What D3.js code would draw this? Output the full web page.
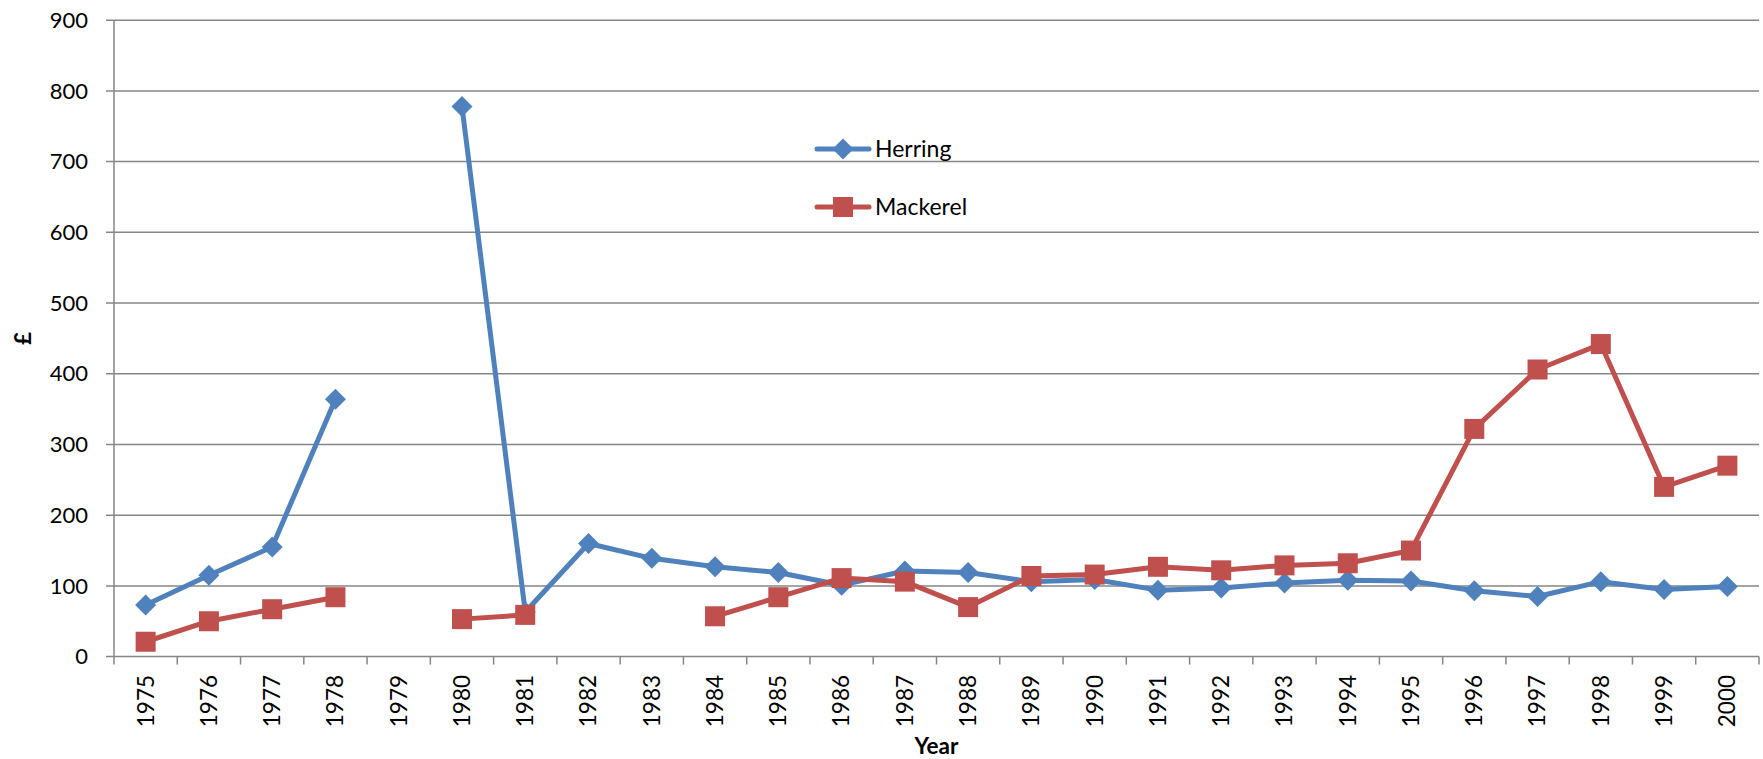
<!DOCTYPE html>
<html>
<head>
<meta charset="utf-8">
<script src="https://cdn.jsdelivr.net/npm/d3@7"></script>
<style>
  html, body { margin: 0; padding: 0; background: #fff; }
  svg { display: block; }
  text { font-family: Lato, "Open Sans", sans-serif; fill: #000; }
</style>
</head>
<body>
<svg id="chart" width="1763" height="759"></svg>
<script>
const years = ["1975","1976","1977","1978","1979","1980","1981","1982","1983","1984","1985","1986","1987","1988","1989","1990","1991","1992","1993","1994","1995","1996","1997","1998","1999","2000"];
const herring = [73, 115, 155, 364, null, 778, 63, 160, 139, 127, 119, 101, 121, 119, 106, 109, 94, 97, 104, 108, 107, 93, 85, 106, 95, 99];
const mackerel = [21, 50, 67, 84, null, 53, 59, null, null, 57, 84, 111, 106, 70, 114, 116, 127, 122, 129, 132, 150, 322, 406, 442, 240, 270];
const yTicks = [0, 100, 200, 300, 400, 500, 600, 700, 800, 900];
const seriesNames = ["Herring", "Mackerel"];
const seriesColors = ["#4F81BD", "#C0504D"];

const svg = d3.select("#chart");
const W = 1763, H = 759;
const m = { left: 114, right: 4, top: 20.2, bottom: 102.4 };
const x = d3.scaleBand().domain(years).range([m.left, W - m.right]);
const y = d3.scaleLinear().domain([0, 900]).range([H - m.bottom, m.top]);
const gridColor = "#868686";

// gridlines
svg.append("g").selectAll("line").data(yTicks).join("line")
  .attr("x1", m.left - 8).attr("x2", W - m.right)
  .attr("y1", d => y(d)).attr("y2", d => y(d))
  .attr("stroke", gridColor).attr("stroke-width", 1.5);

// y axis line
svg.append("line")
  .attr("x1", m.left).attr("x2", m.left)
  .attr("y1", m.top).attr("y2", y(0) + 8)
  .attr("stroke", gridColor).attr("stroke-width", 1.5);

// x ticks at band boundaries
const bounds = years.map(d => x(d)).concat([x(years[years.length - 1]) + x.bandwidth()]);
svg.append("g").selectAll("line").data(bounds.slice(1)).join("line")
  .attr("x1", d => d).attr("x2", d => d)
  .attr("y1", y(0)).attr("y2", y(0) + 8)
  .attr("stroke", gridColor).attr("stroke-width", 1.5);

// y labels
svg.append("g").selectAll("text").data(yTicks).join("text")
  .attr("x", 88).attr("y", d => y(d)).attr("dy", "0.35em")
  .attr("text-anchor", "end").attr("font-size", 22)
  .text(d => d);

// x labels
svg.append("g").selectAll("text").data(years).join("text")
  .attr("transform", d => `translate(${x(d) + x.bandwidth() / 2},675) rotate(-90)`)
  .attr("dy", "0.35em").attr("text-anchor", "end").attr("font-size", 22.5)
  .text(d => d);

// axis titles
svg.append("text").attr("x", (m.left + W - m.right) / 2).attr("y", 754)
  .attr("text-anchor", "middle").attr("font-size", 22.5).attr("font-weight", "bold").text("Year");
svg.append("text").attr("transform", `translate(31,${(y(0) + y(900)) / 2}) rotate(-90)`)
  .attr("text-anchor", "middle").attr("font-size", 22.5).attr("font-weight", "bold").text("£");

const cx = (d, i) => x(years[i]) + x.bandwidth() / 2;
const line = d3.line().defined(d => d != null).x((d, i) => cx(d, i)).y(d => y(d));

function diamond(g, px, py, color) {
  const r = 10.5;
  g.append("path").attr("d", `M${px},${py - r}L${px + r},${py}L${px},${py + r}L${px - r},${py}Z`).attr("fill", color);
}
function square(g, px, py, color) {
  const s = 20;
  g.append("rect").attr("x", px - s / 2).attr("y", py - s / 2).attr("width", s).attr("height", s).attr("fill", color);
}

const data = [herring, mackerel];
data.forEach((vals, k) => {
  const g = svg.append("g");
  g.append("path").datum(vals).attr("d", line)
    .attr("fill", "none").attr("stroke", seriesColors[k]).attr("stroke-width", 5)
    .attr("stroke-linejoin", "round").attr("stroke-linecap", "round");
  vals.forEach((v, i) => {
    if (v == null) return;
    if (k === 0) diamond(g, cx(v, i), y(v), seriesColors[k]);
    else square(g, cx(v, i), y(v), seriesColors[k]);
  });
});

// legend
const legY = [149, 207];
seriesNames.forEach((name, k) => {
  const g = svg.append("g");
  g.append("line").attr("x1", 817).attr("x2", 869).attr("y1", legY[k]).attr("y2", legY[k])
    .attr("stroke", seriesColors[k]).attr("stroke-width", 5).attr("stroke-linecap", "round");
  if (k === 0) diamond(g, 843, legY[k], seriesColors[k]);
  else square(g, 843, legY[k], seriesColors[k]);
  g.append("text").attr("x", 875).attr("y", legY[k]).attr("dy", "0.35em")
    .attr("font-size", 23).text(name);
});
</script>
</body>
</html>
